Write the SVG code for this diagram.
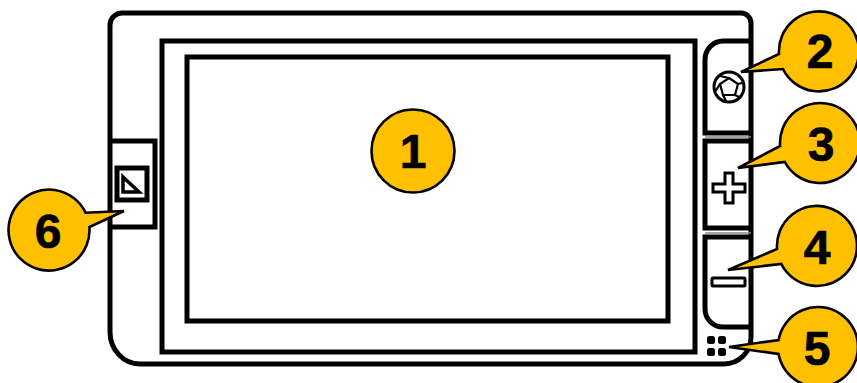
<svg xmlns="http://www.w3.org/2000/svg" width="857" height="383" viewBox="0 0 857 383">
<defs>
<filter id="soft" x="-5%" y="-5%" width="110%" height="110%"><feGaussianBlur stdDeviation="0.7"/></filter>
</defs>
<style>
.ln{fill:none;stroke:#000;stroke-width:5}
.thin{fill:none;stroke:#000;stroke-width:3}
.faint{fill:none;stroke:#888;stroke-width:1.5}
.call{fill:#ffc000;stroke:#000;stroke-width:2.6;stroke-linejoin:miter}
.num{font-family:"Liberation Sans",Arial,sans-serif;font-weight:700;font-size:48px;fill:#000;stroke:#000;stroke-width:.7;text-anchor:middle}
</style>
<rect width="857" height="383" fill="#fff"/>
<g id="device" filter="url(#soft)">
<path id="body" class="ln" d="M122 13H741A10 10 0 0 1 751 23V337A27 27 0 0 1 724 364H140A30 32 0 0 1 110 332V25A12 12 0 0 1 122 13Z"/>
<rect id="bezel" class="ln" x="162" y="41" width="533" height="311"/>
<rect id="screen" class="ln" x="187" y="57" width="481" height="264"/>
<path id="btn-home" class="ln" d="M751 41H723A18 19 0 0 0 705 60V133H751"/>
<path class="faint" d="M705 137H751M705 233H751"/>
<path id="btn-plus" class="ln" d="M751 141H705V228H751"/>
<path id="btn-minus" class="ln" d="M751 237H705V309A18 18 0 0 0 723 327H751"/>
<path id="btn-left" class="ln" d="M110 141H155V227H110"/>
<g id="icon-home" class="thin">
<circle cx="729" cy="87" r="15"/>
<path d="M729 78L738 84L735 95H723L720 84Z" stroke-width="2.2"/>
<path d="M720 76L729 78M742 83L738 84M735 95L741 98M723 95L726 101M720 84L715 92" stroke-width="2.2"/>
</g>
<path id="icon-plus" class="thin" d="M725 173H733V184H745V192H733V203H725V192H713V184H725Z"/>
<rect id="icon-minus" class="thin" x="712" y="278" width="33" height="8" rx="1"/>
<g id="icon-dots" fill="#000">
<rect x="707" y="336" width="8" height="8" rx="2.5"/><rect x="718" y="336" width="8" height="8" rx="2.5"/>
<rect x="707" y="348" width="8" height="8" rx="2.5"/><rect x="718" y="348" width="8" height="8" rx="2.5"/>
</g>
<g id="icon-left">
<rect class="ln" x="117" y="168" width="30" height="32"/>
<path class="ln" style="stroke-width:3.5" d="M123 177V192H139Z"/>
</g>
</g>
<g id="connectors"></g>
<g id="callout-1"><circle class="call" cx="413" cy="151" r="41.5"/><text class="num" x="413" y="168">1</text></g>
<g id="callout-2"><path class="call" d="M779 54A40 40 0 1 1 783 69L741 72Z"/><text class="num" x="820" y="68">2</text></g>
<g id="callout-3"><path class="call" d="M780.1 146A40 40 0 1 1 784.8 162L738 168Z"/><text class="num" x="821" y="161">3</text></g>
<g id="callout-4"><path class="call" d="M777.1 249A40 40 0 1 1 781.3 264L728 270Z"/><text class="num" x="817" y="264">4</text></g>
<g id="callout-5"><path class="call" d="M778.6 340A40 40 0 1 1 778.6 354L729 347Z"/><text class="num" x="817" y="365">5</text></g>
<g id="callout-6"><path class="call" d="M85.6 212.7A40.5 40.5 0 1 0 89.4 227L124 211Z"/><text class="num" x="48" y="248">6</text></g>
</svg>
